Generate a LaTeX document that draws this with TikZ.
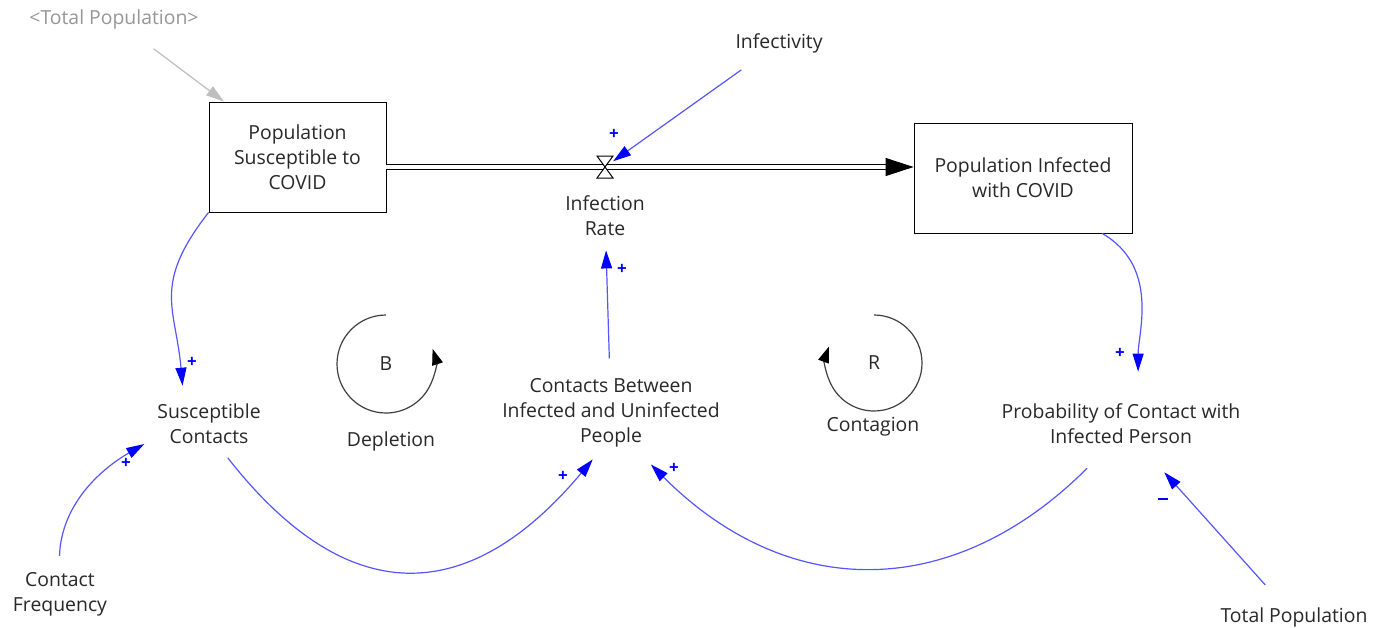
\documentclass[tikz,border=0pt]{standalone}
\usepackage{fontspec}
\setmainfont{Open Sans}
\usetikzlibrary{arrows.meta}
\definecolor{link}{RGB}{85,85,255}
\definecolor{ghost}{RGB}{190,190,190}
\definecolor{ghosttext}{RGB}{150,150,150}
\definecolor{txt}{RGB}{40,40,40}
\tikzset{>={Triangle[length=9pt,width=5.5pt]}}

\begin{document}
\begin{tikzpicture}[x=0.5pt,y=0.5pt]
\useasboundingbox (0,0) rectangle (1384,-627);
\begin{scope}[every node/.style={align=center,inner sep=2pt,text=txt,
    font=\fontsize{9.7pt}{12.5pt}\selectfont}]
\node[draw=black,minimum width=88.5pt,minimum height=55pt] (susc) at (297.5,-157) {Population\\Susceptible to\\COVID};
\node[draw=black,minimum width=109pt,minimum height=55pt] (inf) at (1023,-178) {Population Infected\\with COVID};
\node[text=ghosttext] (gtp) at (114,-19) {<Total Population>};
\node (infty) at (779,-43) {Infectivity};
\node (rate) at (605,-216) {Infection\\Rate};
\node (contacts) at (611,-413) {Contacts Between\\Infected and Uninfected\\People};
\node (sc) at (209,-424) {Susceptible\\Contacts};
\node (cf) at (60,-594) {Contact\\Frequency};
\node (prob) at (1121,-424) {Probability of Contact with\\Infected Person};
\node (tp) at (1294,-617) {Total Population};
\node (loopB) at (386,-364) {B};
\node (depl) at (391,-441) {Depletion};
\node (loopR) at (874,-363) {R};
\node (cont) at (873,-427) {Contagion};
\end{scope}
\coordinate (valve) at (605,-167);

% flow
\draw[double,double distance=1.6pt,line width=0.5pt,shorten >=13pt] (susc.east |- valve) -- (inf.west |- valve);
\draw[{Triangle[length=14pt,width=9pt]}-,line width=0.5pt] (inf.west |- valve) -- ++(-14pt,0);
\draw[fill=white,line width=0.5pt] (valve) ++(-4pt,5.5pt) -- ++(8pt,0) -- ++(-8pt,-11pt) -- ++(8pt,0) -- cycle;

% loops
\draw[-{Triangle[length=8pt,width=5.5pt,color=black]},line width=0.6pt,black!75] (loopB) ++(0,24.5pt) arc[start angle=90,end angle=378,radius=24.5pt];
\draw[-{Triangle[length=8pt,width=5.5pt,color=black]},line width=0.6pt,black!75] (loopR) ++(0,24pt) arc[start angle=90,end angle=-200,radius=24pt];

\begin{scope}[every edge/.style={draw=link,line width=0.6pt},
    >={Triangle[length=9pt,width=5.5pt,color=blue]}]
    \path [->] (gtp) edge [draw=ghost,>={Triangle[length=9pt,width=5.5pt,color=ghost]},shorten <=13pt] (susc.143);
    \path [->] (infty) edge [shorten <=11pt,shorten >=5pt] (valve);
    \path [->] (contacts) edge [shorten <=8pt,shorten >=5pt] (rate);
    \path [->] (susc.south west) edge [out=232,in=95,looseness=1.25,shorten >=7pt] (sc.136);
    \path [->] (cf.92) edge [out=88,in=210,shorten <=6pt,shorten >=5pt] (sc.195);
    \path [->] (sc.-65) edge [out=-52,in=230,looseness=1.38,shorten <=6pt,shorten >=5pt] (contacts.-107);
    \path [->] (prob.-120) edge [out=225,in=-45,looseness=1.17,shorten <=14pt,shorten >=9pt] (contacts.-55);
    \path [->] (inf.-35) edge [out=-30,in=90,shorten >=14pt] (prob.55);
    \path [->] (tp) edge [shorten <=12pt,shorten >=16pt] (prob);
\end{scope}

\begin{scope}[every node/.style={text=blue,inner sep=0pt,font=\fontsize{8.5pt}{9pt}\selectfont\bfseries}]
\node (s1) at (614,-134) {+};
\node (s2) at (622,-269) {+};
\node (s3) at (192,-362) {+};
\node (s4) at (126,-463) {+};
\node (s5) at (563,-476) {+};
\node (s6) at (674,-468) {+};
\node (s7) at (1120,-353) {+};
\node (s8) at (1163,-499) {\rule{5pt}{0.7pt}};
\end{scope}
\end{tikzpicture}
\end{document}
